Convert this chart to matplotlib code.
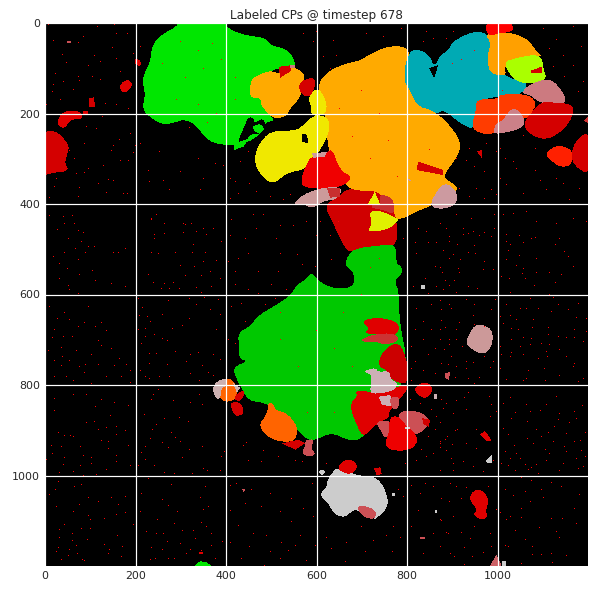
import numpy as np
import matplotlib
matplotlib.use("Agg")
import matplotlib.pyplot as plt
from matplotlib.colors import ListedColormap
from matplotlib.path import Path

TITLE = "Labeled CPs @ timestep 678"
TICKS = [0, 200, 400, 600, 800, 1000]
SIZE = 1200
GRID_CELLS = 543

# ---- labelled regions (x, y in image units) ----
green_top = [(299,-6),(398,-6),(404,13),(446,28),(485,32),(500,50),(536,58),(552,82),(552,99),(512,100),(483,115),(457,126),(453,163),(483,163),(479,181),(498,203),(507,216),(486,220),(479,244),(442,268),(387,270),(356,257),(333,224),(306,213),(287,220),(262,225),(238,213),(214,191),(222,159),(214,122),(233,85),(237,47),(260,24),(289,9)]
green_top_gap = [(442,225),(450,207),(462,211),(462,222),(479,211),(486,218),(486,236),(472,246),(457,244),(442,262),(424,266)]
green_top_notch = [(486,26),(501,23),(505,32),(492,32)]
green_island = [(457,229),(475,222),(486,233),(475,246),(464,240)]
green_sliver = [(416,266),(450,256),(439,273),(418,281)]
orange_small = [(455,124),(475,113),(498,105),(520,113),(549,95),(577,115),(566,137),(566,163),(540,191),(536,205),(505,213),(477,183),(477,165),(451,165)]
red_a = [(516,97),(546,93),(542,107),(520,121)]
red_b = [(560,130),(597,118),(597,144),(582,166),(564,155)]
pink_a = [(542,92),(552,92),(552,100),(542,100)]
orange_big = [(599,141),(625,105),(674,87),(696,83),(725,65),(762,50),(810,54),(810,144),(825,183),(858,194),(890,220),(920,262),(913,294),(886,329),(882,343),(904,356),(916,369),(853,404),(816,419),(781,437),(740,417),(696,375),(674,367),(647,338),(625,279),(621,207)]
yellow_up = [(580,166),(604,139),(625,181),(617,205),(588,205),(588,181)]
yellow_low = [(566,231),(590,205),(625,205),(630,237),(610,279),(594,297),(577,323),(534,331),(505,358),(477,338),(462,306),(470,271),(498,238),(549,238)]
yellow_notch = [(568,244),(579,247),(582,266),(568,262)]
teal = [(793,130),(797,83),(814,54),(849,69),(860,98),(873,72),(891,61),(902,39),(950,17),(978,24),(989,45),(982,71),(985,105),(1006,109),(1042,128),(1067,124),(1059,157),(1006,161),(956,172),(952,235),(924,227),(880,191),(866,202),(858,194),(821,183),(805,144)]
teal_notch = [(849,100),(869,93),(860,122)]
orange_tr = [(973,24),(1002,21),(1028,21),(1067,35),(1085,61),(1100,74),(1080,74),(1013,93),(1020,113),(1006,117),(981,109),(978,71),(985,45)]
lime = [(1011,87),(1046,76),(1096,68),(1103,107),(1109,124),(1072,135),(1037,128)]
red_top = [(976,-4),(1030,-4),(1037,19),(1002,23),(987,28),(974,21)]
red_lime = [(1075,105),(1098,96),(1098,111),(1075,111)]
pink_tr = [(1051,155),(1072,135),(1116,120),(1148,155),(1151,183),(1094,177),(1072,159)]
red_tr = [(1055,220),(1094,175),(1116,175),(1166,179),(1168,203),(1148,235),(1109,260),(1070,246)]
orange_red = [(952,168),(1002,168),(1006,157),(1070,157),(1089,181),(1057,220),(1035,187),(1013,220),(998,227),(991,246),(969,246),(945,235),(945,218),(952,196)]
pink_mid = [(989,246),(996,222),(1011,216),(1035,183),(1059,207),(1059,231),(1020,242)]
scarlet_r = [(1105,288),(1131,269),(1166,279),(1166,312),(1142,320),(1118,305)]
red_edge = [(1206,238),(1175,256),(1162,288),(1169,316),(1206,338)]
red_edge_small = [(1190,215),(1200,208),(1200,222)]
red_mini = [(954,283),(965,281),(965,298)]
red_in_orange = [(825,306),(880,325),(880,336),(821,325)]
pink_orange = [(886,352),(912,373),(908,404),(873,412),(849,404),(867,369)]
pink_dot = [(799,343),(810,347),(807,350)]
red_bright = [(588,295),(623,286),(636,279),(651,325),(680,340),(660,360),(623,367),(569,364),(566,343),(577,314)]
pink_strip = [(590,288),(623,285),(619,295),(593,298)]
pink_band = [(547,401),(571,378),(615,363),(658,363),(647,390),(615,393),(593,410),(571,401)]
brick_a = [(623,365),(652,365),(652,384),(630,386)]
red_dark = [(617,402),(650,383),(670,365),(696,371),(735,371),(762,400),(777,430),(780,492),(737,496),(686,500),(671,507),(654,481),(636,441)]
lime_low = [(716,415),(742,415),(775,430),(783,435),(761,456),(711,463),(723,443)]
yellow_tip = [(714,399),(729,373),(740,399)]
brick_b = [(737,377),(770,386),(773,424),(748,413),(722,409),(722,402),(744,402)]
green_low = [(590,551),(603,569),(638,588),(682,584),(684,553),(665,538),(665,523),(680,499),(737,492),(776,488),(776,532),(787,536),(791,553),(772,568),(783,597),(783,660),(802,752),(776,828),(702,920),(671,923),(634,905),(601,920),(582,923),(558,901),(547,879),(514,857),(485,839),(451,835),(437,813),(418,776),(418,759),(448,748),(429,741),(429,715),(426,685),(455,669),(470,647),(514,621),(543,602),(555,580),(577,566)]
red_c = [(698,658),(737,650),(783,661),(780,691),(741,687),(706,687),(717,674)]
brick_c = [(693,704),(715,691),(752,685),(778,689),(781,704),(752,711),(730,704)]
red_d = [(783,702),(802,752),(802,798),(778,794),(761,783),(757,769),(735,757),(746,724)]
pale_a = [(702,770),(730,761),(737,772),(761,768),(765,790),(780,794),(772,813),(730,820),(717,816),(724,778)]
red_e = [(684,812),(730,816),(770,807),(802,798),(798,816),(761,855),(761,872),(732,886),(704,916),(691,894),(672,844),(691,824)]
pale_b = [(737,826),(763,822),(774,848),(745,844)]
rose_a = [(763,826),(785,826),(781,851),(770,855),(763,840)]
rose_b = [(779,857),(826,857),(853,877),(839,901),(811,912),(787,894)]
red_f = [(833,873),(851,877),(848,892),(837,888)]
rose_c = [(730,881),(763,877),(770,899),(752,920),(741,899)]
red_g = [(761,871),(781,868),(798,890),(820,908),(824,927),(805,945),(765,945),(750,931),(761,903)]
grey_dot_a = [(796,892),(807,892),(807,898),(796,898)]
orange_low = [(492,838),(505,842),(511,857),(533,860),(559,892),(555,920),(534,927),(499,920),(470,892),(492,862)]
red_h = [(523,929),(560,921),(575,929),(553,943)]
rose_d = [(575,921),(597,920),(586,940),(599,951),(586,960),(566,951),(575,936)]
orange_left = [(374,803),(398,787),(415,787),(426,811),(419,835),(391,838)]
pale_left_a = [(376,830),(370,805),(382,790),(402,785),(402,800),(388,810),(388,830)]
pale_left_b = [(416,796),(431,806),(424,818)]
red_i = [(420,822),(439,811),(441,822),(431,836),(419,833)]
red_j = [(411,838),(433,838),(441,864),(420,870),(411,851)]
red_k = [(812,808),(840,791),(857,804),(853,821),(836,832)]
pale_c = [(859,820),(866,819),(866,830),(859,830)]
rose_e = [(884,774),(896,771),(892,788),(884,785)]
grey_big = [(632,997),(645,982),(674,993),(697,1001),(728,1001),(750,1025),(761,1067),(735,1093),(726,1097),(689,1075),(678,1079),(663,1093),(639,1086),(625,1060),(606,1043),(625,1021),(621,1018)]
rose_f = [(687,1069),(708,1067),(732,1077),(730,1097),(704,1093)]
red_l = [(643,984),(663,964),(687,968),(690,988),(671,999)]
red_m = [(727,984),(741,982),(744,997),(733,999)]
grey_a = [(603,992),(612,987),(621,992),(612,999)]
grey_b = [(767,1038),(774,1038),(774,1046),(767,1046)]
rose_g = [(435,1029),(442,1029),(440,1038)]
rose_h = [(829,1137),(840,1137),(840,1141),(829,1141)]
grey_c = [(861,1077),(866,1077),(866,1082),(861,1082)]
pink_r = [(930,704),(945,672),(961,665),(989,676),(989,713),(972,732),(954,728),(934,713)]
grey_d = [(831,579),(839,579),(839,588),(831,588)]
red_n = [(961,910),(972,901),(987,922),(976,925)]
grey_e = [(975,966),(987,955),(987,972),(976,972)]
red_o = [(937,1054),(945,1034),(965,1030),(982,1054),(974,1076),(978,1093),(965,1099),(945,1087),(956,1076)]
rose_i = [(980,1204),(998,1175),(1011,1204)]
grey_f = [(1009,1190),(1018,1190),(1018,1200),(1009,1200)]
green_bottom = [(330,1200),(343,1189),(357,1192),(369,1200)]
red_p = [(341,1170),(350,1170),(350,1174),(341,1174)]
red_left = [(-6,238),(26,238),(54,270),(50,288),(43,310),(54,327),(18,331),(-6,338)]
red_q = [(24,224),(39,194),(79,194),(83,213),(55,213),(44,235)]
red_r = [(85,194),(96,194),(96,204),(85,204)]
red_s = [(96,167),(108,164),(111,185),(98,185)]
red_t = [(164,137),(181,124),(194,133),(186,150),(170,154)]
red_u = [(198,78),(210,82),(214,93),(204,95),(198,88)]
rose_j = [(49,39),(57,39),(57,45),(49,45)]

# (region, colour), in the order they stack
regions = [
    (green_top, "#00e600"), (green_top_gap, "#000000"), (green_top_notch, "#000000"),
    (green_island, "#00e600"), (green_sliver, "#00e600"),
    (orange_small, "#ffaa00"), (red_a, "#d40000"), (red_b, "#d40000"), (pink_a, "#cc7a80"),
    (orange_big, "#ffaa00"), (yellow_up, "#f0e800"), (yellow_low, "#f0e800"), (yellow_notch, "#000000"),
    (teal, "#00aab4"), (teal_notch, "#000000"), (orange_tr, "#ffa000"), (lime, "#aaff00"),
    (red_top, "#ff0000"), (red_lime, "#d40000"), (pink_tr, "#cc7a80"), (red_tr, "#d40000"),
    (orange_red, "#ff3c00"), (pink_mid, "#cc8088"), (scarlet_r, "#ff2000"), (red_edge, "#d40000"),
    (red_edge_small, "#cc3030"), (red_mini, "#d40000"), (red_in_orange, "#d40000"),
    (pink_orange, "#cc9aa0"), (pink_dot, "#cc9aa0"),
    (red_bright, "#f00000"), (pink_strip, "#cc9a9a"), (red_dark, "#d00000"), (pink_band, "#cc9a9a"),
    (brick_a, "#c83030"), (yellow_tip, "#e8f000"), (brick_b, "#c83030"), (lime_low, "#e0f000"),
    (green_low, "#00c800"), (red_c, "#e00000"), (brick_c, "#cc3333"), (red_d, "#cc0000"),
    (red_e, "#e00000"), (pale_a, "#ccb0b5"), (pale_b, "#ccb0b5"), (rose_a, "#cc5055"),
    (rose_b, "#cc5055"), (red_f, "#d40000"), (rose_c, "#cc5055"), (red_g, "#ee0000"), (grey_dot_a, "#cccccc"),
    (orange_low, "#ff6400"), (red_h, "#d40000"), (rose_d, "#cc5055"),
    (orange_left, "#ff6400"), (pale_left_a, "#ccb0b0"), (pale_left_b, "#ccb0b0"), (red_i, "#d40000"), (red_j, "#d40000"),
    (red_k, "#e00000"), (pale_c, "#ccb0b5"), (rose_e, "#cc5055"),
    (grey_big, "#cccccc"), (rose_f, "#cc5055"), (red_l, "#e00000"), (red_m, "#d40000"),
    (grey_a, "#cccccc"), (grey_b, "#cccccc"), (rose_g, "#cc5055"), (rose_h, "#cc5055"), (grey_c, "#cccccc"),
    (pink_r, "#cc9999"), (grey_d, "#cccccc"), (red_n, "#e00000"), (grey_e, "#cccccc"), (red_o, "#e00000"),
    (rose_i, "#cc6065"), (grey_f, "#cccccc"), (green_bottom, "#00e600"), (red_p, "#e00000"),
    (red_left, "#d40000"), (red_q, "#e00000"), (red_r, "#e00000"), (red_s, "#d40000"), (red_t, "#e00000"),
    (red_u, "#e00000"), (rose_j, "#cc5055"),
]

# isolated single-cell change points
specks = [(10,426),(41,428),(60,425),(43,443),(65,443),(28,456),(74,459),(85,463),(52,477),(81,483),(96,494),(109,494),(68,498),(18,516),(43,507),(89,507),(151,507),(162,507),(179,498),(74,522),(33,531),(49,542),(105,546),(76,555),(32,564),(111,568),(52,581),(146,575),(177,583),(55,590),(75,597),
(236,434),(265,444),(306,443),(247,423),(265,465),(243,468),(306,462),(335,461),(358,468),(391,483),(329,489),(288,507),(251,510),(236,507),(327,507),(354,507),(350,526),(380,524),(299,535),(330,538),(365,549),(310,559),(346,557),(229,555),(240,573),(263,575),(284,573),(258,586),(276,586),(369,583),(335,584),(297,586),(345,596),
(10,627),(44,640),(28,653),(55,656),(96,627),(74,670),(88,662),(21,678),(125,662),(111,670),(136,680),(41,692),(60,692),(17,695),(118,701),(125,712),(37,717),(70,723),(103,732),(39,737),(147,719),(7,723),(22,745),(55,746),(90,754),(118,754),(153,756),(181,754),(37,758),(76,760),(164,741),(188,768),(87,773),(21,782),(48,782),(136,782),(170,782),(63,791),(103,796),(188,795),
(206,608),(273,614),(319,608),(352,606),(335,622),(383,612),(366,634),(215,628),(208,647),(226,649),(259,644),(319,653),(387,645),(234,660),(282,675),(304,669),(221,675),(242,688),(223,693),(259,697),(214,708),(271,702),(206,678),(288,725),(232,730),(247,730),(321,732),(339,728),(372,732),(232,752),(271,754),(313,748),(348,756),(210,767),(221,782),(253,782),(275,782),(321,774),(361,772),(341,789),(372,779),(232,785),
(7,4),(116,7),(153,4),(85,30),(18,38),(74,44),(157,23),(182,24),(149,54),(38,69),(109,71),(48,87),(96,94),(158,78),(122,86),(24,111),(74,119),(105,119),(122,125),(166,108),(41,129),(18,137),(77,126),(63,148),(16,151),(35,170),(4,181),(134,179),(184,189),(159,181),(195,67),(210,52),
(92,229),(114,233),(127,207),(151,270),(164,257),(188,244),(88,266),(199,270),(55,281),(147,281),(195,287),(65,299),(129,314),(96,321),(166,303),(184,303),(70,333),(88,331),(151,347),(26,344),(118,355),(77,364),(22,362),(140,346),(173,377),(136,375),(74,384),(182,377),(10,385),
(63,822),(92,822),(20,829),(111,848),(125,833),(153,838),(184,846),(20,857),(144,868),(91,883),(109,880),(135,894),(157,892),(118,898),(179,900),(30,905),(43,911),(57,911),(63,914),(157,909),(124,922),(140,925),(15,933),(37,936),(79,935),(184,933),(140,940),(16,951),(42,960),(85,955),(103,961),(157,955),(4,964),(79,979),(41,975),(103,973),(157,968),(188,977),(33,993),(64,992),(135,986),(114,997),(86,999),
(30,1014),(66,1025),(81,1019),(24,1030),(10,1043),(96,1048),(146,1049),(179,1047),(118,1058),(77,1064),(162,1065),(26,1069),(63,1079),(157,1086),(2,1089),(96,1089),(131,1095),(179,1082),(101,1098),(44,1108),(195,1108),(81,1117),(33,1119),(100,1117),(61,1128),(160,1133),(32,1137),(94,1141),(60,1143),(70,1154),(131,1152),(172,1156),(30,1160),(55,1163),(142,1163),(26,1168),(72,1172),(140,1172),(52,1177),(168,1180),(83,1185),(37,1185),(88,1187),
(228,1006),(280,1020),(354,1025),(214,1040),(260,1054),(343,1048),(210,1080),(273,1067),(293,1080),(350,1076),(361,1069),(248,1098),(286,1106),(346,1104),(225,1124),(262,1128),(304,1121),(328,1121),(357,1113),(247,1128),(271,1145),(299,1150),(332,1139),(369,1128),(236,1159),(259,1163),(321,1163),(346,1165),(369,1154),(393,1145),(287,1183),(245,1183),(273,1183),(376,1183),(234,1185),(313,1172),
(251,810),(240,822),(236,833),(284,835),(321,838),(341,820),(348,844),(220,865),(264,874),(297,871),(317,880),(247,887),(237,898),(279,905),(288,916),(234,918),(259,927),(300,925),(273,938),(348,935),(221,936),(319,942),(397,946),(214,950),(304,960),(221,964),(391,957),(243,977),(206,979),(350,984),(360,989),(265,994),(286,995),(327,995),(387,988),
(895,472),(925,467),(947,461),(972,462),(987,472),(911,490),(949,492),(880,503),(936,507),(902,512),(952,510),(919,523),(972,527),(895,520),(874,540),(914,542),(969,545),(991,544),(917,551),(879,551),(886,568),(906,570),(895,580),(936,582),(956,587),(880,588),(910,595),
(1019,467),(1048,469),(1083,475),(1028,489),(1057,486),(1129,490),(1024,503),(1148,506),(1048,514),(1019,523),(1087,520),(1157,517),(1041,537),(1168,538),(1057,542),(1087,551),(1116,551),(1008,560),(1055,554),(1026,564),(1142,555),(1061,564),(1129,573),(1082,581),(1028,595),(1114,599),
(895,621),(932,610),(950,623),(873,613),(995,612),(899,630),(947,647),(917,661),(877,658),(987,634),(950,666),(972,671),(884,674),(910,678),(873,700),(895,700),(910,700),(923,715),(895,711),(882,721),(899,737),(947,750),(972,737),(932,748),(891,755),(910,759),(991,748),(984,761),(932,763),(908,783),(961,783),(936,785),(949,797),
(1020,621),(1072,608),(1124,607),(1135,621),(1179,619),(1050,630),(1090,630),(1157,634),(1028,647),(1065,630),(1120,638),(1174,650),(1042,655),(1006,649),(1079,655),(1197,652),(1013,663),(1112,673),(1078,674),(1170,677),(1031,676),(1046,678),(1197,682),(1135,693),(1057,696),(1112,689),(1153,696),(1171,696),(1031,700),(1076,698),(1098,709),(1190,704),(1050,715),(1007,715),(1072,710),(1116,710),(1138,722),(1031,728),(1109,726),(1009,733),(1090,741),(1171,752),(1153,736),(1028,737),(1057,733),(1110,737),(1168,759),(1104,763),(1007,763),(1138,778),(1068,767),(1065,785),(1190,785),(1179,792),(1019,787),(1046,800),(1107,789),(1057,790),
(910,835),(936,816),(927,827),(982,826),(880,852),(987,844),(932,855),(902,864),(998,859),(873,882),(911,898),(984,870),(953,898),(889,914),(884,920),(932,930),(901,931),(875,938),(954,940),(888,944),(899,962),(925,968),(991,966),(947,980),(875,988),(969,992),(902,990),
(1029,827),(1065,844),(1013,840),(1109,844),(1131,826),(1188,846),(1039,861),(1072,859),(1094,857),(1138,864),(1171,859),(1030,874),(1066,881),(1135,877),(1160,883),(1127,891),(1175,874),(1013,896),(1087,898),(1113,905),(1153,907),(1194,905),(1024,909),(1066,918),(1098,913),(1183,922),(1124,925),(1037,933),(1079,930),(1149,936),(1171,925),(1018,947),(1105,942),(1153,947),(1186,944),(1042,951),(1175,962),(1116,951),(1028,962),(1109,966),(1194,957),(1050,963),(1061,975),(1087,975),(1009,973),(1024,979),(1076,982),(1146,973),(1190,980),(1068,986),(1090,995),(1039,989),(1138,988),(1179,984),
(910,1025),(877,1051),(895,1058),(921,1051),(932,1026),(980,1025),(1017,1030),(1076,1011),(1054,1004),(1120,1016),(1142,1025),(1098,1032),(1061,1036),(1035,1045),(1181,1043),(1101,1048),(1072,1058),(1170,1073),(874,1098),(1054,1073),(1006,1082),(1052,1092),(1028,1091),(1120,1095),(1143,1095),(1175,1106),(1020,1098),(998,1076),(1093,1115),(1039,1121),(1131,1124),(888,1126),(921,1126),(950,1113),(1138,1137),(1061,1141),(941,1139),(984,1128),(1017,1155),(1024,1156),(1078,1156),(873,1156),(926,1160),(987,1156),(1077,1174),(1098,1174),(1120,1172),(1153,1176),(904,1178),(944,1178),(1121,1192),(1054,1194),(927,1196),(969,1171),
(439,933),(483,944),(446,928),(516,959),(553,966),(479,970),(450,966),(568,970),(623,973),(592,1018),(424,1018),(409,1021),(457,1032),(498,1040),(545,1051),(571,1073),(479,1069),(442,1062),(409,1077),(520,1080),(545,1102),(593,1091),(428,1110),(461,1128),(490,1132),(564,1132),(523,1147),(409,1147),(453,1158),(553,1154),(597,1154),(498,1169),(435,1183),(520,1183),(579,1187),(486,1198),(538,1165),
(623,1136),(667,1147),(634,1161),(700,1113),(755,1132),(770,1113),(767,1169),(726,1143),(708,1169),(663,1191),(785,1136),(811,1113),(859,1128),(837,1172),(892,1128),(877,1099),(825,1077),(840,1018),(859,1025),(792,1047),(818,1003),(896,1018),(903,1091),(896,1172),(829,1040),(781,1032),(811,1021),
(807,833),(829,841),(888,841),(866,870),(907,900),(888,944),(844,959),(873,925),(822,966),(903,973),(859,951),(796,973),
(1101,12),(1168,8),(1131,37),(1186,52),(1146,71),(1168,93),(1123,97),(1190,130),(1149,118),(1179,152),(1116,56),(902,19),(858,34),(843,19),(788,12),(748,30),(711,23),(888,34),(836,41),
(1006,277),(976,266),(998,284),(1017,299),(1035,306),(1057,248),(1083,277),(939,277),(910,299),(932,303),(950,317),(972,328),(1006,343),(1042,321),(1083,325),(1094,347),(1131,343),(1109,369),(1146,354),(1182,365),(1160,391),(1020,358),(1057,376),(998,380),(954,365),(917,365),(939,384),(987,369),(972,388),
(1013,424),(994,424),(1035,421),(1065,417),(1087,439),(1131,443),(1168,432),(1197,439),(994,454),(943,432),(910,424),(873,443),(825,454),(843,461),(895,483),(935,465),(1020,483),(1075,476),(1138,476),(961,469),(792,476),(888,454),(924,454),
(210,266),(254,284),(229,325),(262,347),(299,329),(339,299),(350,343),(376,310),(394,314),(276,369),(232,351),(343,369),(409,343),(431,306),(453,354),(420,351),(409,388),(468,373),(498,384),(428,377),(527,391),(450,284),(542,380),(601,19),(638,38),(571,23),(645,71),(615,74),(593,41),(630,100),
(413,435),(461,424),(468,454),(520,447),(549,447),(579,439),(608,439),(372,454),(324,443),(236,432),(265,465),(310,446),(512,476),(409,469),(442,476),(243,476),(483,424),(350,454),(601,469),(630,469),(649,439),
(428,520),(450,509),(520,509),(557,512),(420,549),(472,549),(516,549),(568,534),(597,538),(634,523),(405,527),(450,590),(501,579),(420,579),(387,564),(472,597),(534,590),(509,608),(435,619),(387,645),(413,626),(487,623),(442,660),(402,726),(380,678),(420,708),(387,744),(405,700),
(818,486),(848,486),(866,486),(822,509),(862,538),(840,564),(814,582),(866,582),(848,597),(822,630),(855,623),(877,634),(837,660),(818,678),(855,678),(873,678),(811,715),(837,700),(862,719),(818,748),(848,733),(811,763),(877,752),(837,767),(862,774),(811,789),(877,833),(855,855),(862,899),(848,914),(833,943),(873,929),
(300,40),(340,60),(370,45),(260,90),(310,120),(350,100),(390,80),(420,120),(290,170),(340,180),(380,200),(420,170),(320,230),(360,220),(400,240),(520,640),(600,680),(640,720),(560,760),(500,800),(620,800),(680,760),(580,860),(640,860),(520,700),(700,600),(720,540),(740,520),(660,640),
(700,150),(740,200),(680,250),(760,260),(720,300),(800,250),(650,190),(850,280),(780,340),(920,80),(950,60),(900,90),(1010,150)]


def rounded(shape, passes=2):
    """Corner-cut an outline so large regions come out round, as in the picture."""
    pts = np.asarray(shape, dtype=float)
    if len(pts) < 5:
        return pts
    for _ in range(passes):
        nxt = np.roll(pts, -1, axis=0)
        pts = np.column_stack([0.75 * pts + 0.25 * nxt, 0.25 * pts + 0.75 * nxt]).reshape(-1, 2)
    return pts


# ---- rasterise onto an image grid through matplotlib's path tools ----
n = GRID_CELLS
cell = SIZE / n
centres = (np.arange(n) + 0.5) * cell
gx, gy = np.meshgrid(centres, centres)
grid_points = np.column_stack([gx.ravel(), gy.ravel()])

palette = ["#000000"]
labels = np.zeros((n, n), dtype=int)
for shape, colour in regions:
    if colour not in palette:
        palette.append(colour)
    pts = rounded(shape)
    inside = Path(np.vstack([pts, pts[:1]])).contains_points(grid_points).reshape(n, n)
    labels[inside] = palette.index(colour)
palette.append("#ff0000")
speck_label = len(palette) - 1
for sx, sy in specks:
    labels[min(int(sy / cell), n - 1), min(int(sx / cell), n - 1)] = speck_label

# ---- figure ----
W, H = 595, 593
fig = plt.figure(figsize=(W / 72, H / 72), dpi=72, facecolor="white")
ax = fig.add_axes([45 / W, 1 - 566 / H, 543 / W, 543 / H])
ax.imshow(labels, cmap=ListedColormap(palette), vmin=0, vmax=len(palette) - 1,
          interpolation="nearest", extent=(0, SIZE, SIZE, 0), aspect="auto")
ax.set_xticks(TICKS)
ax.set_yticks(TICKS)
ax.set_axisbelow(False)
ax.grid(True, color="white", linewidth=1.2)
ax.tick_params(length=0, labelsize=11, labelcolor="#262626", pad=5)
for s in ax.spines.values():
    s.set_visible(False)
ax.set_title(TITLE, fontsize=12, color="#262626", pad=4)
fig.savefig("out.png", dpi=72, facecolor="white")
